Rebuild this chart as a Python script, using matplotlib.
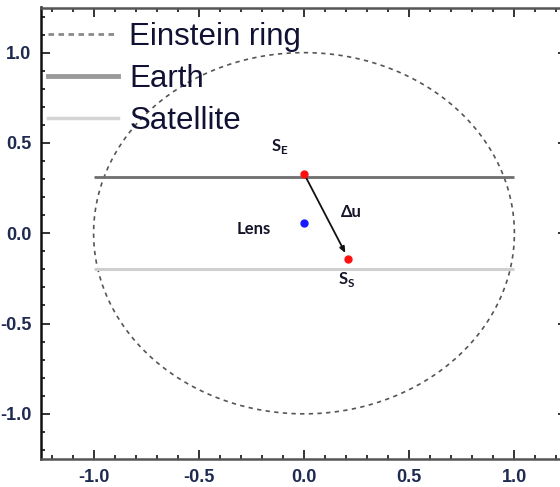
import numpy as np
import matplotlib
matplotlib.use("Agg")
import matplotlib.pyplot as plt
from matplotlib.lines import Line2D
from matplotlib.ticker import MultipleLocator

# Einstein ring (unit radius) and source trajectories seen from Earth / satellite
ring_radius = 1.0
earth_y = 0.31
satellite_y = -0.2
track_x = [-1.0, 1.0]

# Source positions and lens position
source_earth = (0.0, 0.33)
source_sat = (0.21, -0.14)
lens = (0.0, 0.055)

ticks = [-1.0, -0.5, 0.0, 0.5, 1.0]
tick_labels = ["-1.0", "-0.5", "0.0", "0.5", "1.0"]
legend_labels = ["Einstein ring", "Earth", "Satellite"]

fig = plt.figure(figsize=(5.6, 4.87), dpi=100)
ax = fig.add_axes([41 / 560, 28 / 487, 526 / 560, 451.5 / 487])
ax.set_xlim(-1.25, 1.25)
ax.set_ylim(-1.25, 1.25)

theta = np.linspace(0, 2 * np.pi, 400)
ax.plot(ring_radius * np.cos(theta), ring_radius * np.sin(theta),
        ls=(0, (2.6, 2.6)), color="#555555", lw=1.2)
ax.plot(track_x, [earth_y, earth_y], color="#6e6e6e", lw=2.0, solid_capstyle="butt")
ax.plot(track_x, [satellite_y, satellite_y], color="#cfcfcf", lw=2.2, solid_capstyle="butt")

ax.annotate("", xy=source_sat, xytext=source_earth,
            arrowprops=dict(arrowstyle="-|>,head_length=0.35,head_width=0.15",
                            color="#111111", lw=1.3, shrinkA=0, shrinkB=4.5))
ax.plot(*source_earth, "o", color="#ff1010", ms=5, zorder=5)
ax.plot(*source_sat, "o", color="#ff1010", ms=5, zorder=5)
ax.plot(*lens, "o", color="#1a1aff", ms=5, zorder=5)

label_font = dict(family=["Lato", "DejaVu Sans"], weight="bold", fontsize=12, color="#15152a")
ax.text(-0.115, 0.48, r"S$_\mathregular{E}$", ha="center", va="center", **label_font)
ax.text(0.205, -0.255, r"S$_\mathregular{S}$", ha="center", va="center", **label_font)
ax.text(-0.24, 0.025, "Lens", ha="center", va="center", **label_font)
ax.text(0.225, 0.12, "Δu", ha="center", va="center", **label_font)

ax.set_xticks(ticks)
ax.set_xticklabels(tick_labels)
ax.set_yticks(ticks)
ax.set_yticklabels(tick_labels)
ax.xaxis.set_minor_locator(MultipleLocator(0.1))
ax.yaxis.set_minor_locator(MultipleLocator(0.1))
ax.tick_params(which="both", direction="in", top=True, right=True, color="#111111")
ax.tick_params(which="major", length=6.5, width=1.2, pad=7)
ax.tick_params(which="minor", length=3.2, width=1.2)
for lab in ax.get_xticklabels() + ax.get_yticklabels():
    lab.set_fontfamily(["Liberation Sans Narrow", "Liberation Sans", "DejaVu Sans"])
    lab.set_fontweight("bold")
    lab.set_fontsize(13)
    lab.set_color("#1e2a50")
for side in ["left", "bottom", "top", "right"]:
    ax.spines[side].set_linewidth(1.8)
ax.spines["left"].set_color("#111111")
for side in ["bottom", "top", "right"]:
    ax.spines[side].set_color("#555555")

handles = [
    Line2D([], [], ls=(0, (2.0, 1.6)), color="#8a8a8a", lw=2.0),
    Line2D([], [], color="#9a9a9a", lw=3.5),
    Line2D([], [], color="#d4d4d4", lw=2.5),
]
ax.legend(handles, legend_labels, loc="upper left", bbox_to_anchor=(7 / 526, 1 - 14 / 451.5),
          frameon=False, prop=dict(family=["Liberation Sans", "DejaVu Sans"], size=22.5),
          handlelength=2.25, handletextpad=0.35, labelspacing=0.39, borderpad=0,
          borderaxespad=0, labelcolor="#111133")

fig.savefig("out.png", dpi=100)
